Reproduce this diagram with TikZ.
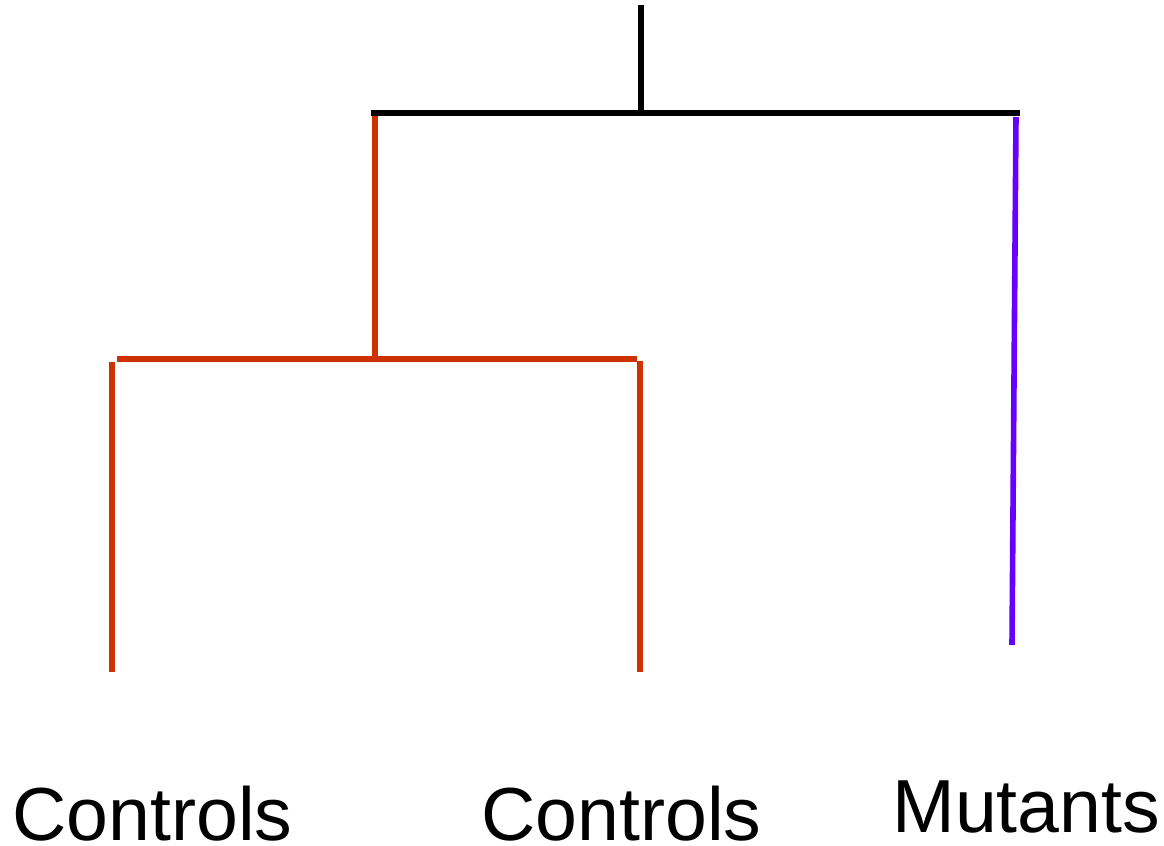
\documentclass[tikz,border=0pt]{standalone}
\usepackage{fontspec}
\setmainfont{Liberation Sans}
\usetikzlibrary{positioning}
\definecolor{ctrlred}{RGB}{204,51,0}
\definecolor{mutviolet}{RGB}{102,0,255}

\begin{document}
\begin{tikzpicture}[x=0.5pt,y=-0.5pt,
  branch/.style={line width=2.8pt},
  leaf/.style={inner sep=0pt,anchor=base west,font=\fontsize{37.6}{40}\selectfont}]
\useasboundingbox (0,0) rectangle (1164,846);
% junction points (pixel grid, y downwards)
\coordinate (root) at (641,5);
\coordinate (rootj) at (641,113);
\coordinate (topl) at (371,113);
\coordinate (topr) at (1020,113);
\coordinate (ctrlj) at (375,116);
\coordinate (ctrlm) at (375,359);
\coordinate (midl) at (117,359);
\coordinate (midr) at (637,359);
\coordinate (c1top) at (112,362);
\coordinate (c1end) at (112,672);
\coordinate (c2top) at (640,361);
\coordinate (c2end) at (640,672);
\coordinate (mtop) at (1016,117);
\coordinate (mend) at (1012,645);
% top level
\draw[branch] (root) -- (rootj);
\draw[branch] (topl) -- (topr);
% control cluster
\draw[branch,ctrlred] (ctrlj) -- (ctrlm);
\draw[branch,ctrlred] (midl) -- (midr);
\draw[branch,ctrlred] (c1top) -- (c1end);
\draw[branch,ctrlred] (c2top) -- (c2end);
% mutant branch
\draw[branch,mutviolet] (mtop) -- (mend);
% labels
\node[leaf] (ctrla) at (12,840) {Controls};
\node[leaf] (ctrlb) at (481,840) {Controls};
\node[leaf] (mut) at (892,832) {Mutants};
\end{tikzpicture}
\end{document}
